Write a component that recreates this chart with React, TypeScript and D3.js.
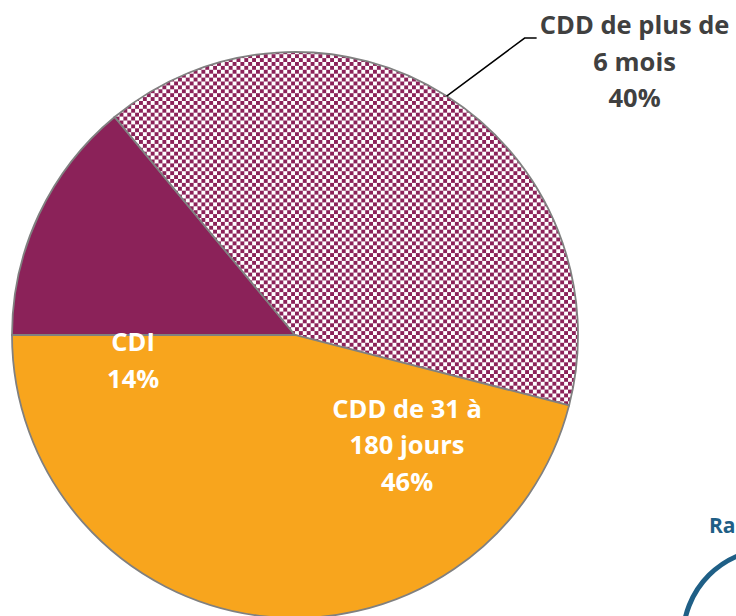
import * as d3 from "d3";

const WIDTH = 736;
const HEIGHT = 616;

const categories = ["CDI", "CDD de plus de 6 mois", "CDD de 31 à 180 jours"];
const values = [14, 40, 46];
const labelLines = [
  ["CDI", "14%"],
  ["CDD de plus de", "6 mois", "40%"],
  ["CDD de 31 à", "180 jours", "46%"],
];
// label anchor as offset from pie centre, in units of the radius
const labelOffsets: [number, number][] = [
  [-0.572, 0.09],
  [1.2, -0.965],
  [0.396, 0.389],
];
const labelColors = ["#ffffff", "#404040", "#ffffff"];

const PURPLE = "#8b2259";
const ORANGE = "#f8a51d";

const CX = 295;
const CY = 335;
const R = 283;
const CELL = 3.9;

const App = () => {
  const pie = d3
    .pie<number>()
    .sort(null)
    .startAngle(-Math.PI / 2)
    .endAngle((3 * Math.PI) / 2);
  const arcs = pie(values);
  const arcGen = d3.arc<d3.PieArcDatum<number>>().innerRadius(0).outerRadius(R);

  const fills = [PURPLE, "url(#checker)", ORANGE];

  // leader line for the outside label, from the slice's mid-angle
  const a = arcs[1];
  const leaderAngle = (a.startAngle + a.endAngle) / 2;
  const p0: [number, number] = [R * Math.sin(leaderAngle), -R * Math.cos(leaderAngle)];
  const p1: [number, number] = [p0[0] + 78, p0[1] - 58];
  const p2: [number, number] = [p1[0] + 12, p1[1]];
  const leader = d3.line()([p0, p1, p2]);

  const lineH = 36.5;

  return (
    <svg
      width={WIDTH}
      height={HEIGHT}
      style={{ position: "fixed", left: 0, top: 0, background: "#fff" }}
      fontFamily="Open Sans, Noto Sans, sans-serif"
    >
      <defs>
        <pattern id="checker" width={CELL * 2} height={CELL * 2} patternUnits="userSpaceOnUse">
          <rect width={CELL * 2} height={CELL * 2} fill="#ffffff" />
          <rect width={CELL} height={CELL} fill={PURPLE} />
          <rect x={CELL} y={CELL} width={CELL} height={CELL} fill={PURPLE} />
        </pattern>
      </defs>
      <g transform={`translate(${CX},${CY})`}>
        {arcs.map((d, i) => (
          <path
            key={categories[i]}
            d={arcGen(d) || ""}
            fill={fills[i]}
            stroke="#808080"
            strokeWidth={1.8}
          />
        ))}
        <path d={leader || ""} fill="none" stroke="#000" strokeWidth={1.5} />
        {labelLines.map((lines, i) => {
          const [ox, oy] = labelOffsets[i];
          const x = ox * R;
          const y = oy * R - ((lines.length - 1) * lineH) / 2;
          return (
            <g key={categories[i]} transform={`translate(${x},${y})`}>
              {lines.map((t, j) => (
                <text
                  key={j}
                  y={j * lineH}
                  dy="0.35em"
                  textAnchor="middle"
                  fontSize={25.5}
                  fontWeight="bold"
                  fill={labelColors[i]}
                >
                  {t}
                </text>
              ))}
            </g>
          );
        })}
      </g>
      <text x={709} y={533} fontSize={21} fontWeight="bold" fill="#1f5f86">
        Ra
      </text>
      <circle cx={772} cy={638} r={89} fill="none" stroke="#1f5f86" strokeWidth={5} />
    </svg>
  );
};

export default App;
